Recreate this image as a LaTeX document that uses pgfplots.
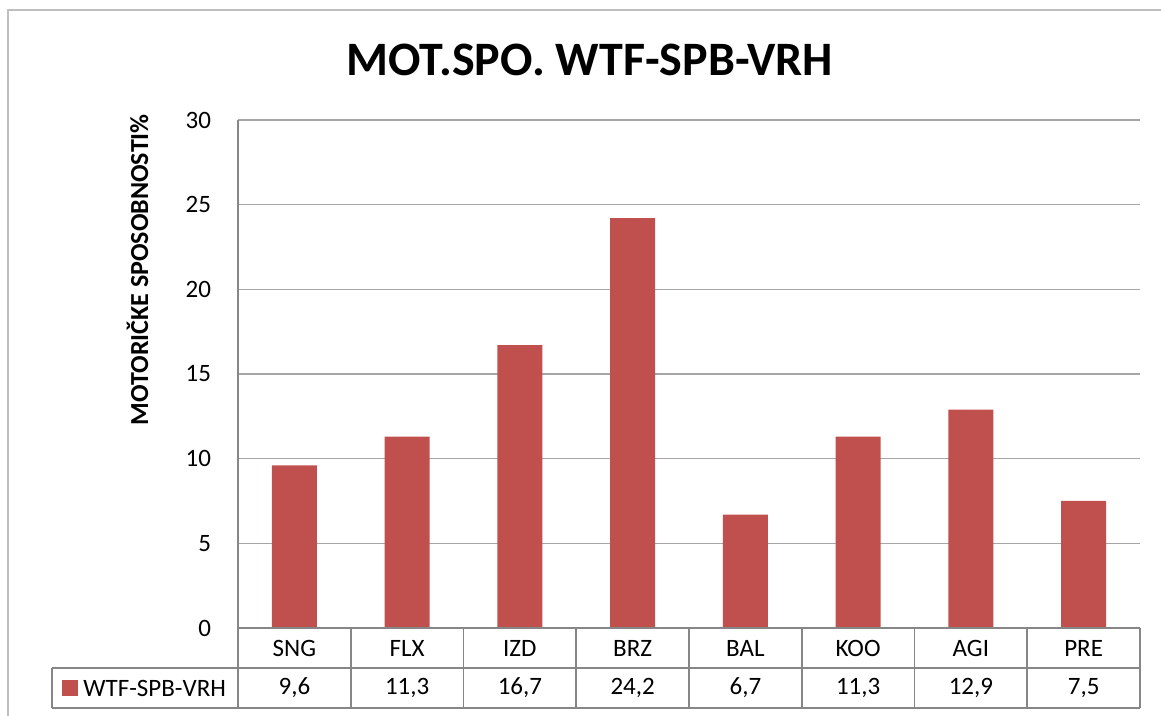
\documentclass[border=0pt]{standalone}
\usepackage{fontspec}
\setmainfont{Carlito}
\usepackage{pgfplots}
\usepackage{pgfplotstable}
\pgfplotsset{compat=1.18}
\definecolor{barred}{HTML}{C0504D}
\definecolor{gridgray}{HTML}{A6A6A6}
\definecolor{tablegray}{HTML}{868686}
\definecolor{framegray}{HTML}{BFBFBF}
\pgfplotstableread{
x lab val
0 SNG 9.6
1 FLX 11.3
2 IZD 16.7
3 BRZ 24.2
4 BAL 6.7
5 KOO 11.3
6 AGI 12.9
7 PRE 7.5
}\data
\begin{document}
\begin{tikzpicture}
\useasboundingbox (-119pt,-44pt) rectangle (461.5pt,314pt);
\draw[line width=1.2pt, color=framegray] (-115pt,-60pt) -- (-115pt,309pt) -- (480pt,309pt);
\begin{axis}[
  at={(0,0)}, anchor=south west,
  scale only axis, width=451pt, height=254pt,
  xmin=-0.5, xmax=7.5, ymin=0, ymax=30,
  ytick={0,5,...,30},
  ymajorgrids, grid style={line width=0.8pt, color=gridgray},
  axis x line*=bottom, axis y line*=left,
  axis line style={line width=0.8pt, color=tablegray, -},
  major tick length=0pt,
  xtick={0,...,7},
  xticklabels={SNG,FLX,IZD,BRZ,BAL,KOO,AGI,PRE},
  xticklabel style={anchor=center, yshift=-10pt},
  yticklabel style={anchor=east, xshift=-10pt},
  tick label style={font=\fontsize{12.5}{14}\selectfont},
  /pgf/number format/assume math mode=true,
  ylabel={MOTORIČKE SPOSOBNOSTI\%},
  ylabel style={at={(rel axis cs:-0.1115,0.705)}, anchor=center, rotate=0, font=\bfseries\fontsize{13}{15}\selectfont},
  title={MOT.SPO. WTF-SPB-VRH},
  title style={at={(rel axis cs:0.39,1.094)}, anchor=center, font=\bfseries\fontsize{24}{28}\selectfont},
  clip=false,
]
\addplot[ybar, bar width=22.5pt, fill=barred, draw=none] table[x=x,y=val]{\data};
\end{axis}
% data table below the axis
\begin{scope}[line width=0.8pt, color=tablegray]
\foreach \k in {0,...,8} {\draw (\k*56.375pt,0) -- (\k*56.375pt,-40pt);}
\draw (0,0) -- (451pt,0);
\draw (-93pt,-20pt) -- (451pt,-20pt);
\draw (-93pt,-40pt) -- (451pt,-40pt);
\draw (-93pt,-20pt) -- (-93pt,-40pt);
\end{scope}
\foreach \i/\t in {0/{9,6},1/{11,3},2/{16,7},3/{24,2},4/{6,7},5/{11,3},6/{12,9},7/{7,5}} {
  \node[font=\fontsize{12.5}{14}\selectfont] at (\i*56.375pt+28.1875pt,-30pt) {\t};
}
\fill[barred] (-88pt,-34.25pt) rectangle (-80pt,-26.25pt);
\node[anchor=west, inner sep=0pt, font=\fontsize{12.5}{14}\selectfont] at (-77.5pt,-30pt) {WTF-SPB-VRH};
\end{tikzpicture}
\end{document}
